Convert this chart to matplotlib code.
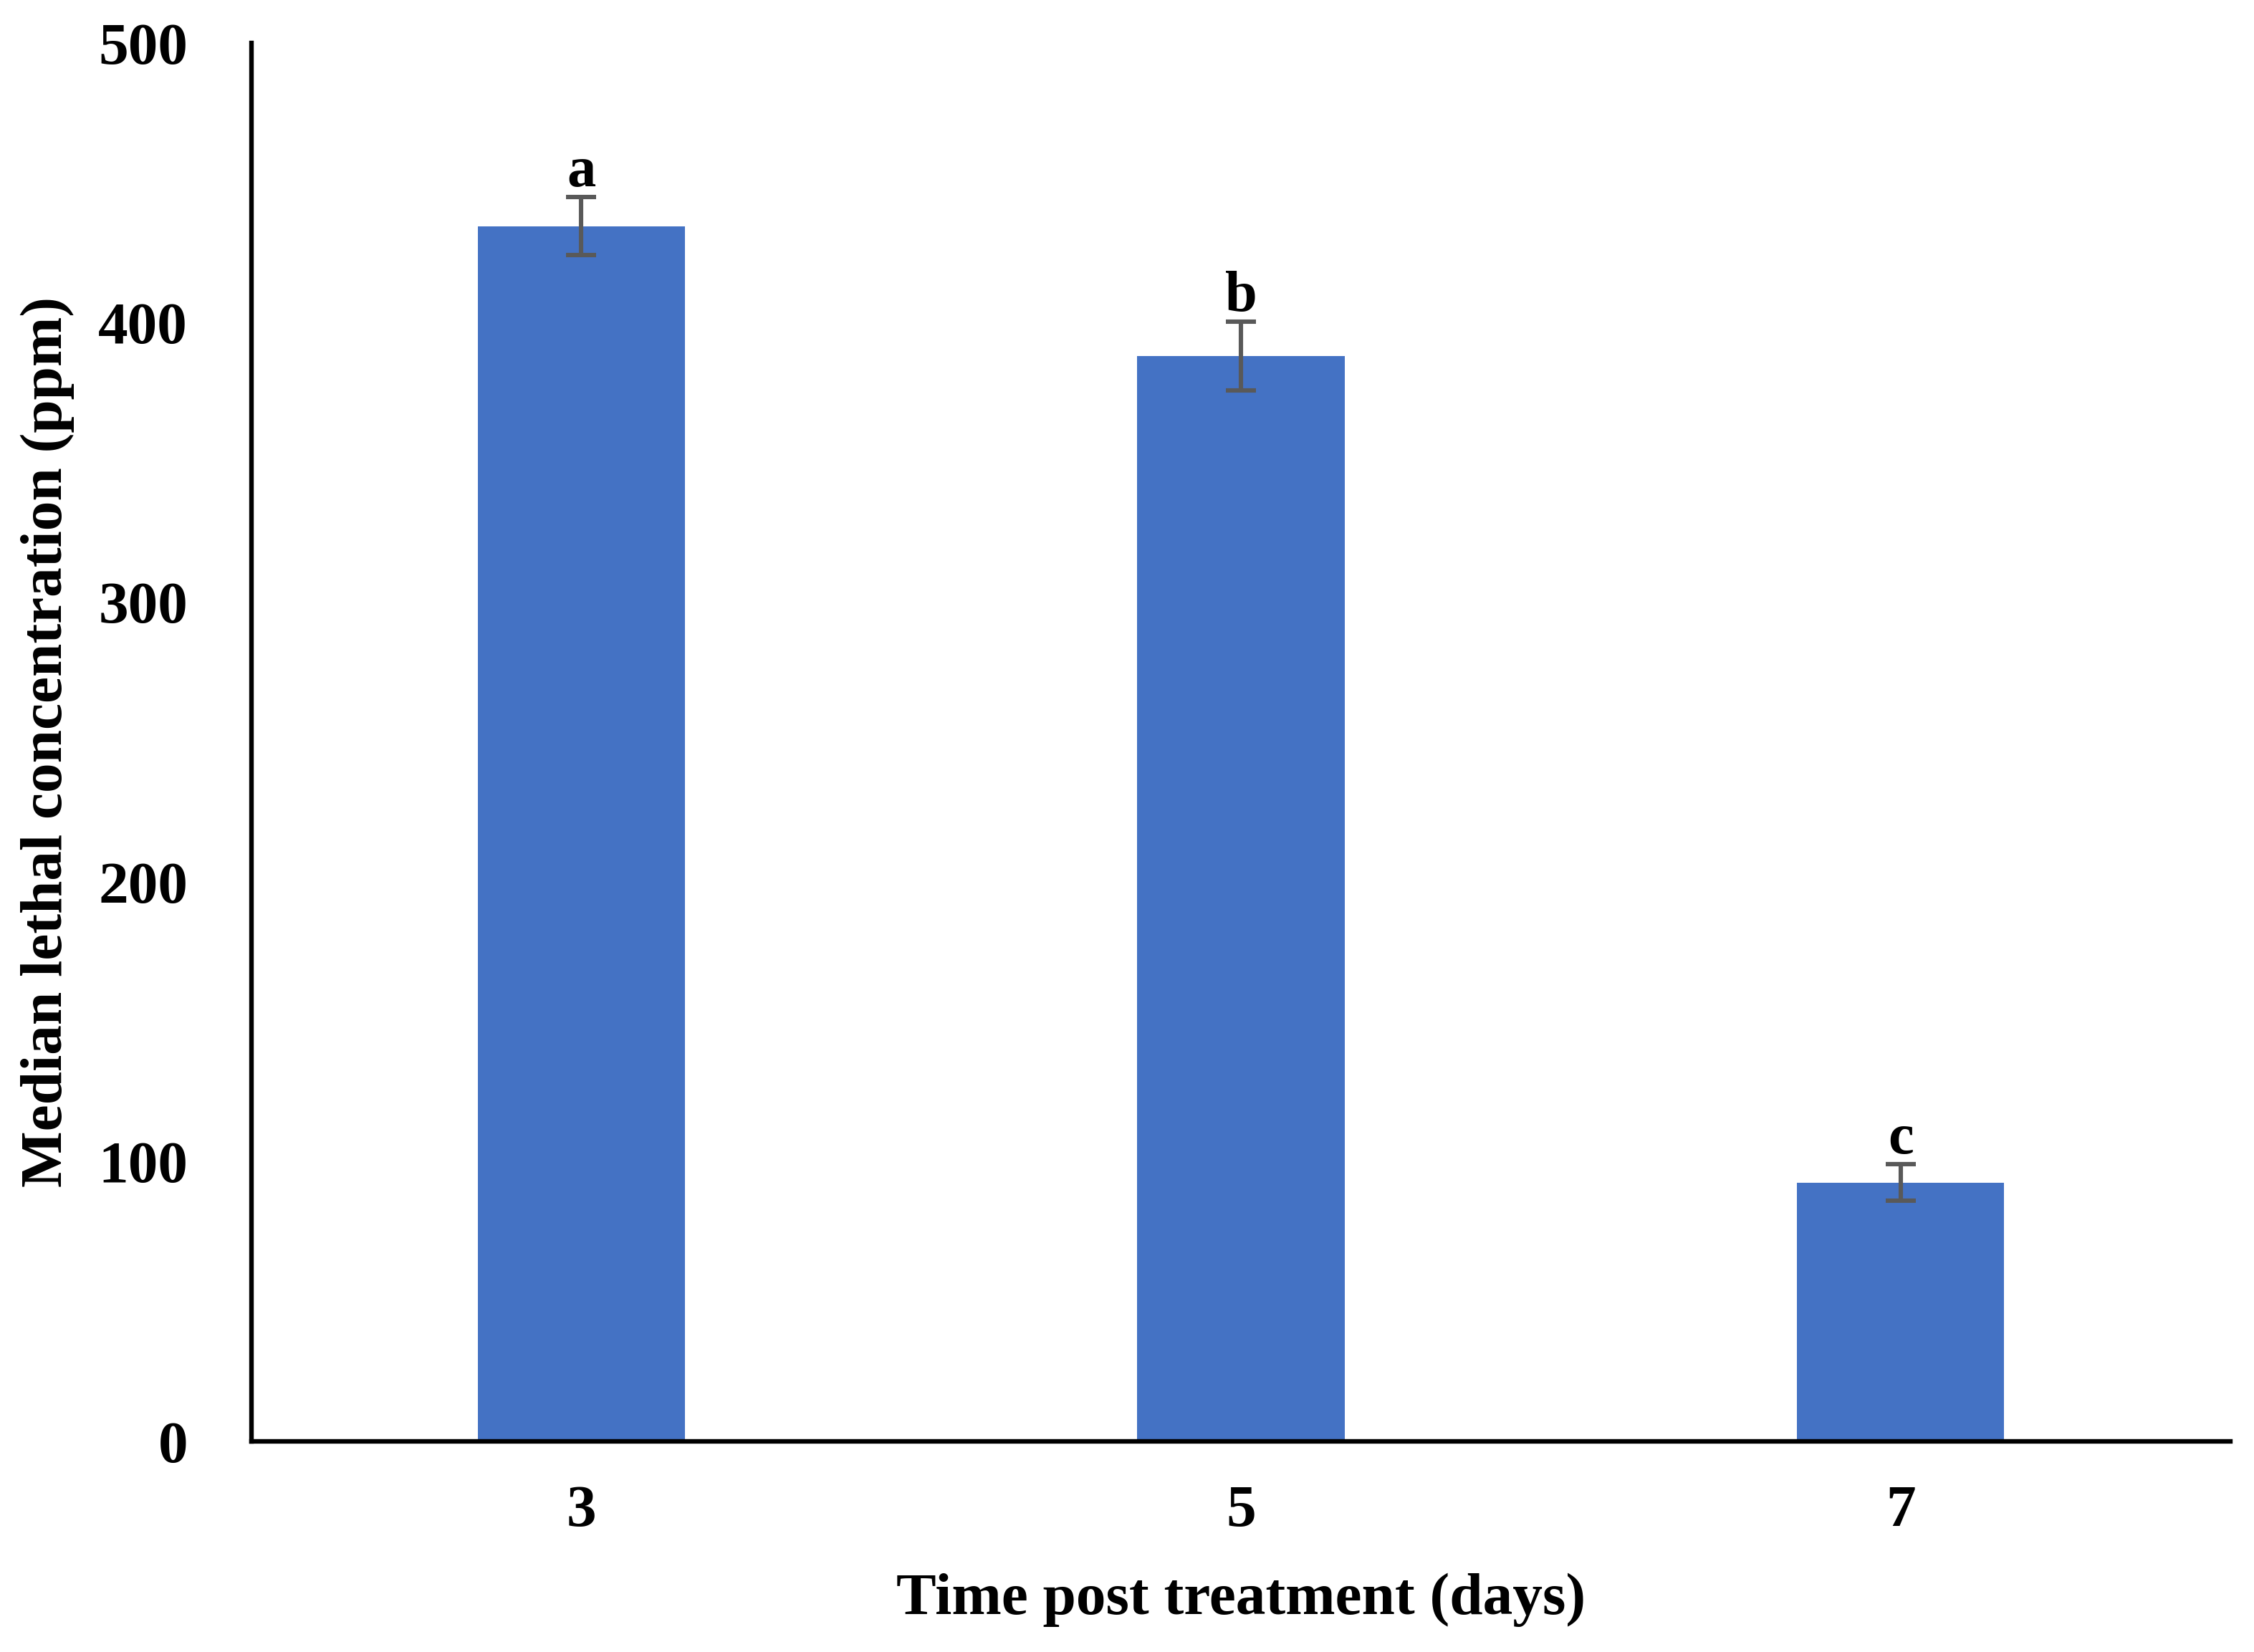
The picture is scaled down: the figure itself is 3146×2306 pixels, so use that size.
import numpy as np
import matplotlib.pyplot as plt

# Data
days = ['3', '5', '7']
lc50 = [434.5, 388.0, 92.5]
lc50_err = [10.3, 12.3, 6.5]
letters = ['a', 'b', 'c']

plt.rcParams['font.family'] = ['Liberation Serif', 'DejaVu Serif']
plt.rcParams['font.weight'] = 'bold'

fig = plt.figure(figsize=(15.73, 11.53), dpi=200)
ax = fig.add_axes([0.1116, 0.1275, 0.8779, 0.8465])

x = np.arange(len(days))
ax.bar(x, lc50, width=0.314, color='#4472C4', zorder=2)
ax.errorbar(x, lc50, yerr=lc50_err, fmt='none', ecolor='#595959',
            elinewidth=2.2, capsize=7.5, capthick=2.2, zorder=3)

# Significance letters above the error bars
for xi, v, e, lab in zip(x, lc50, lc50_err, letters):
    ax.text(xi, v + e - 0.5, lab, ha='center', va='bottom',
            fontsize=29, fontweight='bold')

ax.set_xlim(-0.5, 2.5)
ax.set_ylim(0, 500)
ax.set_xticks(x)
ax.set_xticklabels(days)
ax.set_yticks(np.arange(0, 501, 100))

for s in ['top', 'right']:
    ax.spines[s].set_visible(False)
for s in ['left', 'bottom']:
    ax.spines[s].set_linewidth(2.3)
    ax.spines[s].set_color('black')

ax.tick_params(axis='both', length=0, labelsize=30)
ax.tick_params(axis='x', pad=22)
ax.tick_params(axis='y', pad=32)

ax.set_xlabel('Time post treatment (days)', fontsize=30, fontweight='bold', labelpad=17)
ax.set_ylabel('Median lethal concentration (ppm)', fontsize=30, fontweight='bold', labelpad=12)

plt.savefig('out.png', dpi=200)
